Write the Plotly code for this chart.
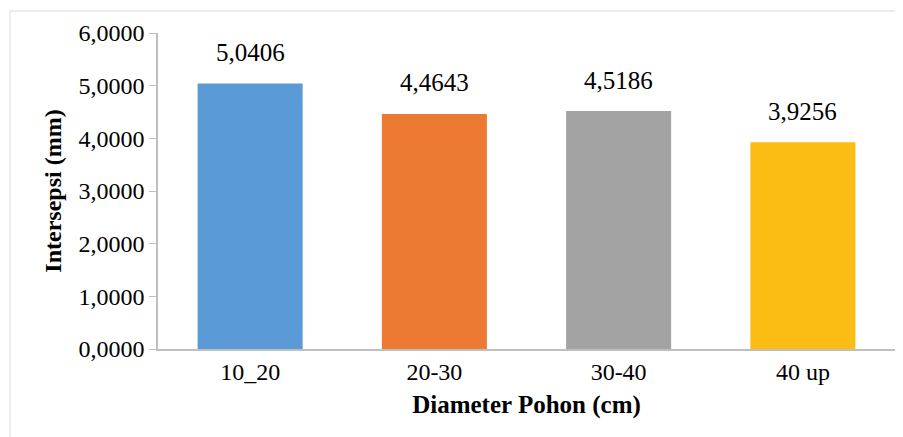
import plotly.graph_objects as go

categories = ["10_20", "20-30", "30-40", "40 up"]
values = [5.0406, 4.4643, 4.5186, 3.9256]
value_labels = ["5,0406", "4,4643", "4,5186", "3,9256"]
bar_colors = ["#5a9ad6", "#ec7a32", "#a3a3a3", "#fbbd14"]
y_ticks = [0, 1, 2, 3, 4, 5, 6]

FONT = "Liberation Serif, Times New Roman, serif"

fig = go.Figure()
fig.add_trace(go.Bar(
    x=categories, y=values,
    marker=dict(color=bar_colors, line=dict(width=0)),
    width=0.57,
    hoverinfo="skip",
))

fig.update_layout(template="none")

for c, v, t in zip(categories, values, value_labels):
    fig.add_annotation(x=c, y=v, xref="x", yref="y", text=t, showarrow=False, yanchor="middle",
                       yshift=31, font=dict(family=FONT, size=25, color="#000000"))

# chart-area border (top and left visible)
fig.add_shape(type="line", xref="paper", yref="paper", x0=-0.2008, x1=1.03, y0=1.0696, y1=1.0696,
              line=dict(color="#d9d9d9", width=1))
fig.add_shape(type="line", xref="paper", yref="paper", x0=-0.2008, x1=-0.2008, y0=1.0696, y1=-0.3,
              line=dict(color="#d9d9d9", width=1))

# page body has an 8px margin, so shift the figure up/left by 8px
fig.update_layout(
    width=895, height=429,
    margin=dict(l=150, r=8, t=25, b=88),
    paper_bgcolor="white", plot_bgcolor="white",
    separators=",.",
    showlegend=False,
    font=dict(family=FONT, color="#000000"),
    bargap=0.43,
)
fig.update_xaxes(
    showline=True, linecolor="#bfbfbf", linewidth=1.5, showgrid=False, zeroline=False,
    ticks="", tickfont=dict(family=FONT, size=24, color="#000000"),
    title=dict(text="<b>Diameter Pohon (cm)</b>", font=dict(family=FONT, size=25, color="#000000"), standoff=12),
)
fig.update_yaxes(
    range=[0, 6], tickvals=y_ticks, tickformat=".4f",
    showgrid=False, zeroline=False,
    showline=True, linecolor="#bfbfbf", linewidth=1.5,
    ticks="outside", ticklen=7, tickcolor="#bfbfbf",
    tickfont=dict(family=FONT, size=24, color="#000000"),
    title=dict(text="<b>Intersepsi (mm)</b>", font=dict(family=FONT, size=24, color="#000000"), standoff=10),
)

fig.write_html("out.html")
